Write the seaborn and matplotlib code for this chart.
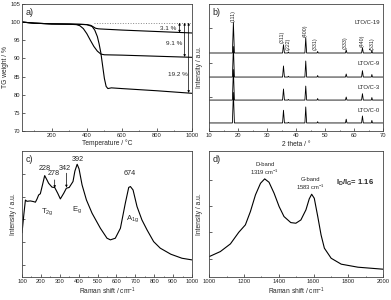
import matplotlib
matplotlib.use("Agg")
import matplotlib.pyplot as plt
import seaborn as sns
import numpy as np
import pandas as pd
from matplotlib.ticker import MultipleLocator, NullFormatter

# ---------------- data ----------------
# a) TGA
tg_c3_T = [30, 100, 200, 300, 365, 400, 422, 440, 450, 465, 479, 600, 800, 1000]
tg_c3_W = [100, 99.7, 99.5, 99.45, 99.4, 99.3, 99.1, 98.6, 98.3, 98.15, 98.1, 97.8, 97.4, 97.0]
tg_c9_T = [30, 100, 200, 300, 340, 360, 380, 400, 420, 440, 460, 480, 500, 600, 800, 1000]
tg_c9_W = [100, 99.7, 99.5, 99.4, 99.3, 99.0, 98.2, 96.8, 95.0, 93.3, 92.0, 91.2, 91.0, 90.9, 90.6, 90.3]
tg_c19_T = [30, 100, 200, 300, 400, 430, 445, 460, 470, 480, 490, 500, 510, 520, 540, 600, 800, 1000]
tg_c19_W = [100, 99.7, 99.5, 99.45, 99.3, 98.8, 97.8, 96.0, 94.0, 91.5, 88.0, 84.5, 82.3, 81.7, 81.9, 81.7, 81.1, 80.4]
loss_labels = ["3.1 %", "9.1 %", "19.2 %"]
loss_ends = [97.1, 90.4, 80.5]

# b) XRD
xrd_2theta = [10, 18.0, 18.35, 18.7, 35.3, 35.62, 35.95, 37.1, 37.3, 37.5, 43.0, 43.3, 43.6,
              47.2, 47.4, 47.6, 57.0, 57.25, 57.5, 62.55, 62.85, 63.15, 65.9, 66.1, 66.3, 70]
xrd_c19 = [0, 0, 24, 0, 0, 6.5, 0, 0, 0.8, 0, 0, 12, 0, 0, 1.2, 0, 0, 2.4, 0, 0, 4.0, 0, 0, 2.0, 0, 0]
xrd_c9 = [0, 0, 24, 0, 0, 8.7, 0, 0, 0.6, 0, 0, 12.6, 0, 0, 1.2, 0, 0, 2.4, 0, 0, 5.0, 0, 0, 2.0, 0, 0]
xrd_c3 = [0, 0, 24, 0, 0, 8.7, 0, 0, 0.5, 0, 0, 11.0, 0, 0, 1.2, 0, 0, 2.4, 0, 0, 5.0, 0, 0, 2.0, 0, 0]
xrd_c0 = [0, 0, 24, 0, 0, 10.0, 0, 0, 0.5, 0, 0, 12.6, 0, 0, 1.0, 0, 0, 3.0, 0, 0, 5.5, 0, 0, 2.0, 0, 0]
xrd_samples = ["LTO/C-19", "LTO/C-9", "LTO/C-3", "LTO/C-0"]
xrd_offsets = [61.4, 42.5, 24.4, 6.4]
xrd_label_y = [85.3, 52.8, 33.9, 16.5]
hkl_labels = ["(111)", "(311)", "(222)", "(400)", "(331)", "(333)", "(440)", "(531)"]
hkl_x = [18.1, 35.2, 37.3, 43.2, 46.7, 56.8, 62.7, 66.2]
hkl_y = [85.8, 69.3, 63.8, 74.0, 63.8, 64.6, 66.0, 63.8]

# c) Raman LTO
ramc_x = [100, 110, 118, 126, 144, 160, 171, 180, 188, 197, 210, 220, 232, 241, 259, 273, 289, 303,
          321, 335, 350, 370, 380, 392, 402, 418, 441, 471, 515, 550, 568, 594, 621, 647, 665, 674,
          688, 709, 735, 762, 797, 832, 888, 947, 1000]
ramc_y = [35, 50, 61, 60, 60.3, 59.8, 59.3, 62, 65, 66, 74, 80.4, 77, 74.3, 71.2, 71, 66.4, 61.9,
          66.4, 70.4, 71, 75.7, 84, 89.4, 85.7, 73, 61.1, 50.5, 38.6, 30.7, 29.4, 30.7, 38.6, 58.5, 71, 71.7,
          69, 55.8, 45.2, 37.3, 28, 22.8, 18, 14.8, 13.5]
ramc_peaks = ["228", "278", "342", "392", "674"]
ramc_peak_xy = [(218, 85.7), (266, 81.7), (329, 85.7), (393, 92.9), (673, 81.7)]
ramc_modes = ["T$_{2g}$", "E$_g$", "A$_{1g}$"]
ramc_mode_xy = [(234, 51.6), (393, 53.2), (684, 46)]

# d) Raman carbon
ramd_x = [1000, 1064, 1122, 1170, 1208, 1237, 1266, 1295, 1319, 1344, 1373, 1402, 1430, 1469, 1498,
          1527, 1556, 1575, 1589, 1604, 1624, 1643, 1662, 1701, 1759, 1855, 2000]
ramd_y = [16.1, 20.1, 26.2, 35.4, 41.3, 51.9, 65.1, 74.3, 77.8, 75.1, 66.4, 55.8, 47.9, 43.1, 42.6,
          45.2, 53.2, 61.9, 65.6, 62.4, 47.9, 33.3, 22.8, 14.8, 10.1, 7.7, 6.1]

# ---------------- style ----------------
sns.set_style("ticks")
plt.rcParams["font.family"] = ["Liberation Sans", "DejaVu Sans"]
plt.rcParams["mathtext.default"] = "regular"
plt.rcParams.update({
    "xtick.direction": "in", "ytick.direction": "in",
    "xtick.major.size": 2, "ytick.major.size": 2,
    "xtick.minor.size": 1, "ytick.minor.size": 1,
    "xtick.major.width": 0.5, "ytick.major.width": 0.5,
    "xtick.minor.width": 0.5, "ytick.minor.width": 0.5,
    "xtick.labelsize": 4.2, "ytick.labelsize": 4.2,
    "axes.labelsize": 4.8, "axes.linewidth": 0.6,
    "axes.edgecolor": "#444444",
    "xtick.major.pad": 1.5, "ytick.major.pad": 1.5,
})

fig = plt.figure(figsize=(3.91, 3.0), dpi=100)
axA = fig.add_axes([0.0563, 0.563, 0.4347, 0.424])
axB = fig.add_axes([0.535, 0.563, 0.445, 0.424])
axC = fig.add_axes([0.0563, 0.077, 0.4347, 0.420])
axD = fig.add_axes([0.535, 0.077, 0.445, 0.420])
LW = 0.8

# a)
for T, W in [(tg_c3_T, tg_c3_W), (tg_c9_T, tg_c9_W), (tg_c19_T, tg_c19_W)]:
    sns.lineplot(x=T, y=W, ax=axA, color="black", lw=LW)
axA.plot([440, 1000], [99.8, 99.8], color="#888888", ls=":", lw=0.7)
arrow_x = [929, 958, 981]
text_x = [911, 943, 977]
text_y = [98.2, 94.0, 85.5]
for lab, ye, ax_, tx, ty in zip(loss_labels, loss_ends, arrow_x, text_x, text_y):
    axA.annotate("", xy=(ax_, ye), xytext=(ax_, 99.8),
                 arrowprops=dict(arrowstyle="<|-|>", lw=0.5, mutation_scale=3,
                                 color="black", shrinkA=0, shrinkB=0))
    axA.text(tx, ty, lab, ha="right", va="center", fontsize=4.6)
axA.set_xlim(30, 1000)
axA.set_ylim(70, 105)
axA.xaxis.set_major_locator(MultipleLocator(200))
axA.xaxis.set_minor_locator(MultipleLocator(100))
axA.yaxis.set_major_locator(MultipleLocator(5))
axA.set_xlabel("Temperature / °C", labelpad=0.5)
axA.set_ylabel("TG weight / %", labelpad=1)
axA.text(0.02, 0.97, "a)", transform=axA.transAxes, fontsize=6.5, va="top", ha="left")

# b)
for lab, ys, off, ly in zip(xrd_samples, [xrd_c19, xrd_c9, xrd_c3, xrd_c0], xrd_offsets, xrd_label_y):
    sns.lineplot(x=xrd_2theta, y=[v + off for v in ys], ax=axB, color="black", lw=0.6)
    axB.text(68.8, ly, lab, ha="right", va="center", fontsize=4.3)
for lab, hx, hy in zip(hkl_labels, hkl_x, hkl_y):
    axB.text(hx, hy, lab, rotation=90, ha="center", va="bottom", fontsize=3.8)
axB.set_xlim(10, 70)
axB.set_ylim(0, 100)
axB.xaxis.set_major_locator(MultipleLocator(10))
axB.xaxis.set_minor_locator(MultipleLocator(5))
axB.set_yticks([0, 26.8, 53.5, 81])
axB.yaxis.set_major_formatter(NullFormatter())
axB.set_xlabel("2 theta / °", labelpad=2)
axB.set_ylabel("Intensity / a.u.", labelpad=3)
axB.text(0.02, 0.97, "b)", transform=axB.transAxes, fontsize=6.5, va="top", ha="left")

# c)
sns.lineplot(x=ramc_x, y=ramc_y, ax=axC, color="black", lw=LW)
for lab, (px, py) in zip(ramc_peaks, ramc_peak_xy):
    axC.text(px, py, lab, ha="center", va="center", fontsize=5.2)
for lab, (px, py) in zip(ramc_modes, ramc_mode_xy):
    axC.text(px, py, lab, ha="center", va="center", fontsize=5.5)
for xx, y0, y1 in [(273, 77, 70.6), (335, 82.3, 71.0)]:
    axC.annotate("", xy=(xx, y1), xytext=(xx, y0),
                 arrowprops=dict(arrowstyle="-|>", lw=0.5, mutation_scale=3,
                                 color="black", shrinkA=0, shrinkB=0))
axC.set_xlim(100, 1000)
axC.set_ylim(0, 100)
axC.xaxis.set_major_locator(MultipleLocator(100))
axC.xaxis.set_minor_locator(MultipleLocator(50))
axC.set_yticks([9.5, 28, 46, 63.7, 81.5])
axC.yaxis.set_major_formatter(NullFormatter())
axC.set_xlabel("Raman shift / cm$^{-1}$", labelpad=1.5)
axC.set_ylabel("Intensity / a.u.", labelpad=2)
axC.text(0.02, 0.97, "c)", transform=axC.transAxes, fontsize=6.5, va="top", ha="left")

# d)
sns.lineplot(x=ramd_x, y=ramd_y, ax=axD, color="black", lw=LW)
axD.text(1319, 88.9, "D-band", ha="center", va="center", fontsize=4.2)
axD.text(1319, 83.1, "1319 cm$^{-1}$", ha="center", va="center", fontsize=4.2)
axD.text(1585, 77.0, "G-band", ha="center", va="center", fontsize=4.2)
axD.text(1585, 71.2, "1583 cm$^{-1}$", ha="center", va="center", fontsize=4.2)
axD.text(1836, 74.6, "I$_D$/I$_G$= 1.16", ha="center", va="center", fontsize=5.5, fontweight="bold")
axD.set_xlim(1000, 2000)
axD.set_ylim(0, 100)
axD.xaxis.set_major_locator(MultipleLocator(200))
axD.xaxis.set_minor_locator(MultipleLocator(100))
axD.set_yticks([14.3, 35.5, 56.3, 77])
axD.yaxis.set_major_formatter(NullFormatter())
axD.set_xlabel("Raman shift / cm$^{-1}$", labelpad=1.5)
axD.set_ylabel("Intensity / a.u.", labelpad=3)
axD.text(0.02, 0.97, "d)", transform=axD.transAxes, fontsize=6.5, va="top", ha="left")

fig.savefig("out.png", dpi=100)
